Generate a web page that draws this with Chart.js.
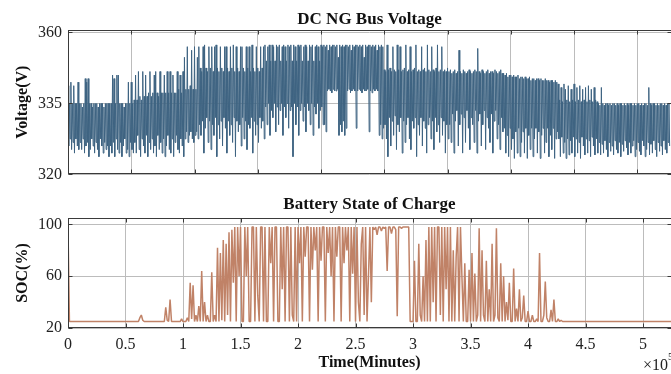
<!DOCTYPE html>
<html>
<head>
<meta charset="utf-8">
<script src="https://cdn.jsdelivr.net/npm/chart.js@4.4.0/dist/chart.umd.min.js"></script>
<style>
  html, body { margin: 0; padding: 0; background: #fff; overflow: hidden; }
  #wrap { position: relative; width: 671px; height: 374px; }
  canvas { position: absolute; left: 0; }
  #voltChart { top: 0; }
  #socChart { top: 190px; }
</style>
</head>
<body>
<div id="wrap">
  <canvas id="voltChart" width="671" height="190"></canvas>
  <canvas id="socChart" width="671" height="184"></canvas>
</div>
<script>
// time runs in units of 1e5; both traces are sampled at a fixed step
var timeMax = 5.243;
var voltStep = 0.00625;
var socStep = 0.0125;

var timeTicks = [0, 0.5, 1, 1.5, 2, 2.5, 3, 3.5, 4, 4.5, 5];
var voltGridTimes = [0, 0.55, 1.1, 1.65, 2.2, 2.75, 3.3, 3.85, 4.4, 4.95];
var voltTicks = [320, 340, 360];
var voltTickLabels = ['320', '335', '360'];
var socTicks = [20, 60, 100];

// DC bus voltage (V)
var busVoltage = [
  345,328,340,330,346,327,340,329,345,326,340,330,340,328,346,327,
  340,329,340,327,339,330,340,326,347,328,346,329,347,325,340,327,340,330,339,328,
  340,326,340,329,340,327,339,325,340,330,340,328,340,326,339,329,340,327,340,328,
  340,325,
  340,328,340,326,348,329,347,325,340,330,348,327,348,326,340,329,340,325,340,328,
  339,330,340,326,340,327,346,325,340,329,346,327,340,326,
  341,329,348,326,341,331,349,327,342,325,341,330,349,328,342,326,348,331,342,325,
  343,329,349,327,342,330,343,326,348,328,349,325,343,331,342,327,349,329,343,326,
  343,330,348,325,343,328,349,331,343,327,349,326,343,330,348,325,343,329,343,331,
  349,327,344,326,348,330,343,328,349,325,
  353,330,344,332,356,329,344,331,345,332,355,330,344,329,356,331,344,332,353,330,
  356,334,350,331,349,335,356,326,356.5,333,350,336,349,329,356,335,350,327,356,334,
  349,331,356,336,356.5,325,350,334,349,330,356,335,350,328,349,336,356,333,356,326,
  350,335,349,331,356,334,350,329,356.5,336,349,325,356,335,350,332,349,334,356,328,
  356,336,350,330,349,335,356,327,350,334,356,333,349,336,356.5,326,350,335,349,331,
  356,334,350,329,349,336,356,333,350,335,356,330,
  356.5,339,352,334,356,340,356.5,331,352,338,356.5,336,356,340,352,332,356.5,339,356,334,
  356.5,338,352,340,356,331,356.5,339,356,336,352,340,356.5,333,356,338,356.5,339,352,325,
  356.5,340,356,334,352,339,356.5,331,356,338,356.5,340,352,335,356,339,356.5,332,356,340,
  352,338,356.5,334,356,340,356.5,331,352,339,356,337,356.5,340,356,333,352,338,356.5,339,
  356,334,
  356.5,334,356,332,356.5,343.5,355,344,356.5,343.5,356,343,356.5,344,356.5,343.5,356,343.5,356.5,344,
  353,331,356.5,334,356,332,356.5,335,356,331,356.5,333,356.5,343.5,356,344,356.5,343,355,343.5,
  356.5,344,356,343.5,356.5,333,356.5,343.5,356,344,356.5,343.5,356,343,356.5,344,353,343.5,356.5,343.5,
  356,344,356.5,332,356.5,343.5,356,343,356.5,344,356,343.5,356.5,344,355,343.5,356.5,331,356,334,
  356.5,330,356,333,
  349.5,334,349,330,356.5,325,349.5,336,350,328,349,335,356,331,349.5,336.5,349,327,356.5,334,
  349.5,332,356,336,349,326,349.5,335,350,329,356.5,334,349,336,349.5,330,356,327,349,335,
  349.5,333,350,336,356.5,325,349,334,349.5,331,349,336,356,328,349.5,335,350,333,349,326,
  356.5,334,349.5,336,349,330,356,335,349.5,327,349,336,350,332,356.5,334,349,329,349.5,336,
  356,331,349,335,349.5,326,349,334,350,330,
  349,334,349.5,329,348.5,337,349,326,349.5,335,348.5,338,349,328,355,334,349,337,348.5,326,
  349.5,336,349,329,348.5,338,349,333,349.5,327,349,336,348.5,334,349,329,349.5,338,349,326,
  355.5,335,349,337,348.5,328,349.5,334,349,338,348.5,327,349,336,349.5,333,348.5,329,349,337,
  349,326,348.5,335,349.5,338,349,330,348.5,334,349,327,349.5,336,348.5,332,
  348.5,333,348,326,348.5,331,347.5,325,348,333,348,327,347.5,330,348,324.5,347.5,332,347.5,326,
  348,333,347,325,347.5,329,347.5,332,347,326,347.5,333,347,324.5,347,331,347.5,327,346.5,333,
  347,325,347,330,346.5,333,347,326,347,332,346.5,324.5,347,331,346.5,333,346.5,326,347,329,
  346.5,333,346.5,325,346,331,346.5,327,346.5,333,346,324.5,346.5,330,346,332,
  345.5,330,341,325,344.5,330.5,340.5,326,345.5,329,344,324.5,341,330,345,325.5,340.5,329.5,344,326,
  341,330.5,345.5,325,340.5,330,344.5,326,341,329,345,324.5,340.5,330.5,344,328,341,325.5,344.5,330,
  340.5,326,345,329.5,341,325,344,330.5,340.5,328,344.5,325.5,341,330,340.5,326,
  340,329,339.5,325.5,344.5,328.5,340,326,339.5,329.5,340,327,340,325,339.5,329,340,326.5,339.5,328,
  340,325.5,340,329.5,339.5,327,340,326,339.5,329,340,325,340,328.5,339.5,326.5,340,329.5,339.5,327.5,
  340,325.5,339.5,329,340,326,340,328,339.5,329.5,340,325,339.5,327,340,329,340,326.5,339.5,325.5,
  340,329.5,339.5,328,340,325,340,327,339.5,329,344.5,325.5,340,328.5,339.5,326,340,329.5,340,327,
  339.5,325,340,329,339.5,326.5,340,328,340,325.5,339.5,329.5,340,327,339.5,326,340,329,340,328
];

// battery state of charge (%)
var batterySoc = [
  97,
  25,25,25,25,25,25,25,25,25,25,
  25,25,25,25,25,25,25,25,25,25,
  25,25,25,25,25,25,25,25,25,25,
  25,25,25,25,25,25,25,25,25,25,
  25,25,25,25,25,25,25,25,25,
  28,30,26,25,
  25,25,25,25,25,25,25,25,25,25,25,25,25,
  25,36,26,25,42,25,
  25,25,25,25,25,25,
  27,25,
  25,25,28,25,55,27,53,25,30,25,37,25,64,25,40,25,30,25,25,63,
  25,30,25,82,25,78,26,88,25,85,30,94,25,96,55,98,25,98,60,
  98,25,25,98,60,98,25,25,98,98,25,98,45,25,98,98,25,98,25,25,
  98,70,98,25,98,98,25,25,98,50,98,25,98,98,25,98,30,25,98,25,
  98,70,98,25,98,75,98,98,25,98,65,98,80,98,25,98,72,98,98,25,
  98,78,98,60,98,25,98,75,98,98,25,98,70,98,80,98,25,98,62,98,
  25,98,40,25,85,98,30,98,25,60,98,40,
  98,96,98,92,98,98,95,98,97,98,64,98,98,93,98,98,96,29,98,98,97,98,98,98,
  98,98,25,25,25,
  72,25,25,85,30,25,60,25,88,25,
  98,25,98,40,98,25,98,98,30,98,
  25,98,50,98,25,98,25,80,25,75,
  98,25,98,60,25,70,25,25,65,
  25,78,25,62,25,30,97,25,80,30,25,72,25,50,25,85,25,30,97,28,25,70,25,
  60,25,40,26,55,25,25,66,25,35,
  25,50,25,28,45,25,25,33,25,25,
  30,25,25,27,25,78,25,25,30,56,
  28,25,25,34,25,42,25,25,27,25,
  26,25,
  25,25,25,25,25,25,25,25,25,25,
  25,25,25,25,25,25,25,25,25,25,
  25,25,25,25,25,25,25,25,25,25,
  25,25,25,25,25,25,25,25,25,25,
  25,25,25,25,25,25,25,25,25,25,
  25,25,25,25,25,25,25,25,25,25,
  25,25,25,25,25,25,25,25,25,25,
  25,25,25,25,25,25
];

function toPoints(values, step) {
  return values.map(function (v, i) { return { x: i * step, y: v }; });
}

function fixedTicks(list) {
  return function (scale) {
    scale.ticks = list.map(function (v) { return { value: v }; });
  };
}

Chart.defaults.font.family = '"Liberation Serif", "Times New Roman", serif';
Chart.defaults.font.size = 16;
Chart.defaults.color = '#222';

var gridColor = '#bcbcbc';
var boldFont = { size: 16, weight: 'bold' };

// box round the plot area with short inward ticks on every side
var framePlugin = {
  id: 'frame',
  afterDatasetsDraw: function (chart) {
    var a = chart.chartArea, ctx = chart.ctx;
    var xs = chart.scales.x, ys = chart.scales.y;
    var l = Math.round(a.left) + 0.5, r = Math.round(a.right) + 0.5;
    var t = Math.round(a.top) + 0.5, b = Math.round(a.bottom) - 0.5;
    ctx.save();
    ctx.strokeStyle = '#3a3a3a';
    ctx.lineWidth = 1;
    ctx.strokeRect(l, t, r - l, b - t);
    ctx.beginPath();
    xs.ticks.forEach(function (tk) {
      var px = Math.round(xs.getPixelForValue(tk.value)) + 0.5;
      ctx.moveTo(px, t); ctx.lineTo(px, t + 4);
      ctx.moveTo(px, b); ctx.lineTo(px, b - 4);
    });
    ys.ticks.forEach(function (tk) {
      var py = Math.round(ys.getPixelForValue(tk.value)) + 0.5;
      ctx.moveTo(l, py); ctx.lineTo(l + 4, py);
      ctx.moveTo(r, py); ctx.lineTo(r - 4, py);
    });
    ctx.stroke();
    ctx.restore();
  }
};

// panel heading centred over the plot area rather than the whole canvas
var panelTitlePlugin = {
  id: 'panelTitle',
  afterDraw: function (chart, args, opts) {
    var a = chart.chartArea, ctx = chart.ctx;
    ctx.save();
    ctx.fillStyle = '#111';
    ctx.font = 'bold 17px "Liberation Serif"';
    ctx.textAlign = 'center';
    ctx.textBaseline = 'middle';
    ctx.fillText(opts.text, (a.left + a.right) / 2, opts.y);
    ctx.restore();
  }
};

// "x10^5" multiplier under the right end of the time axis
var exponentPlugin = {
  id: 'exponent',
  afterDraw: function (chart) {
    var a = chart.chartArea, ctx = chart.ctx;
    ctx.save();
    ctx.fillStyle = '#222';
    ctx.textBaseline = 'alphabetic';
    ctx.font = '16px "Liberation Serif"';
    ctx.fillText('\u00d710', a.right - 28, a.bottom + 42);
    ctx.font = '11px "Liberation Serif"';
    ctx.fillText('5', a.right - 3, a.bottom + 32);
    ctx.restore();
  }
};

new Chart(document.getElementById('voltChart'), {
  type: 'line',
  data: {
    datasets: [{
      data: toPoints(busVoltage, voltStep),
      borderColor: '#3f6482',
      borderWidth: 1,
      borderJoinStyle: 'bevel',
      pointRadius: 0,
      tension: 0
    }]
  },
  options: {
    responsive: false,
    animation: false,
    events: [],
    layout: { padding: { top: 30 } },
    plugins: {
      legend: { display: false },
      tooltip: { enabled: false },
      panelTitle: { text: 'DC NG Bus Voltage', y: 20 }
    },
    scales: {
      x: {
        type: 'linear',
        min: 0,
        max: timeMax,
        border: { display: false },
        grid: { color: gridColor, drawTicks: false },
        ticks: { display: false },
        afterBuildTicks: fixedTicks(voltGridTimes),
        afterFit: function (s) { s.height = 11; }
      },
      y: {
        min: 320,
        max: 360.7,
        border: { display: false },
        grid: { color: gridColor, drawTicks: false },
        ticks: {
          padding: 6,
          callback: function (v) { return voltTickLabels[voltTicks.indexOf(v)]; }
        },
        afterBuildTicks: fixedTicks(voltTicks),
        afterFit: function (s) { s.width = 68; },
        title: { display: true, text: 'Voltage(V)', color: '#111', font: boldFont, padding: { top: 13 } }
      }
    }
  },
  plugins: [framePlugin, panelTitlePlugin]
});

new Chart(document.getElementById('socChart'), {
  type: 'line',
  data: {
    datasets: [{
      data: toPoints(batterySoc, socStep),
      borderColor: '#c08267',
      borderWidth: 1.5,
      borderJoinStyle: 'bevel',
      pointRadius: 0,
      tension: 0
    }]
  },
  options: {
    responsive: false,
    animation: false,
    events: [],
    layout: { padding: { top: 28 } },
    plugins: {
      legend: { display: false },
      tooltip: { enabled: false },
      panelTitle: { text: 'Battery State of Charge', y: 15 }
    },
    scales: {
      x: {
        type: 'linear',
        min: 0,
        max: timeMax,
        border: { display: false },
        grid: { color: gridColor, drawTicks: false },
        ticks: {
          padding: 7,
          autoSkip: false,
          maxRotation: 0,
          callback: function (v) { return String(v); }
        },
        afterBuildTicks: fixedTicks(timeTicks),
        afterFit: function (s) { s.height = 46; },
        title: { display: true, text: 'Time(Minutes)', color: '#111', font: boldFont, padding: { top: 0, bottom: 2 } }
      },
      y: {
        min: 20,
        max: 105,
        border: { display: false },
        grid: { color: gridColor, drawTicks: false },
        ticks: { padding: 6 },
        afterBuildTicks: fixedTicks(socTicks),
        afterFit: function (s) { s.width = 68; },
        title: { display: true, text: 'SOC(%)', color: '#111', font: boldFont, padding: { top: 13 } }
      }
    }
  },
  plugins: [framePlugin, panelTitlePlugin, exponentPlugin]
});
</script>
</body>
</html>
